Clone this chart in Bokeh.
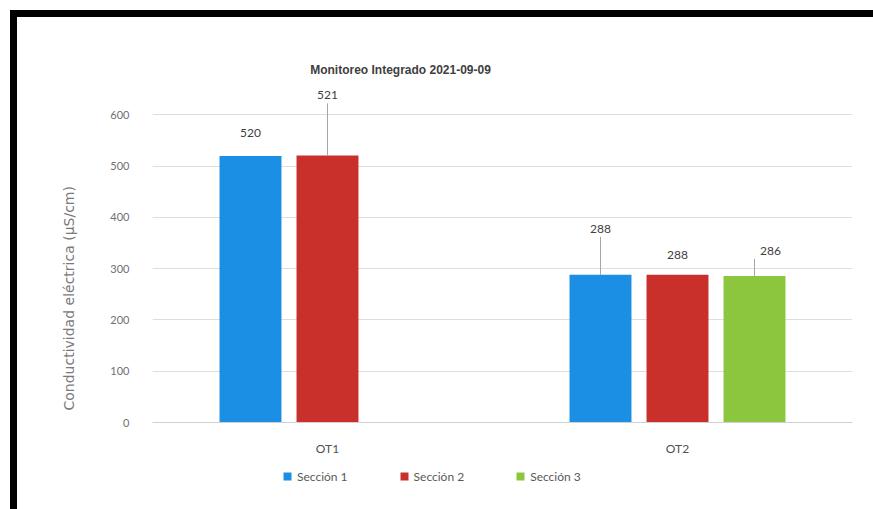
import math
from bokeh.plotting import figure
from bokeh.models import (FactorRange, Range1d, FixedTicker, Legend, LegendItem,
                          Label, Title, ColumnDataSource, Div, Spacer)
from bokeh.layouts import column, row
from bokeh.transform import dodge
from bokeh.core.properties import value
from bokeh.embed import file_html
from bokeh.resources import INLINE

# ---------------- data ----------------
categories = ["OT1", "OT2"]
series_names = ["Sección 1", "Sección 2", "Sección 3"]
seccion_1 = [520, 288]
seccion_2 = [521, 288]
seccion_3 = [None, 286]
y_ticks = [0, 100, 200, 300, 400, 500, 600]
title_text = "Monitoreo Integrado 2021-09-09"
y_label_text = "Conductividad eléctrica (µS/cm)"

# ---------------- styling ----------------
colors = ["#1A8FE3", "#C9302C", "#8CC63E"]
offsets = [-0.22, 0.0, 0.22]
bar_width = 0.177
# label lift above bar top (px) and horizontal shift (px), per series per category
label_lift = [[23, 46], [60, 20], [None, 25]]
label_shift = [[0, 0], [0, 0], [0, 16]]
leader = [[False, True], [True, False], [False, True]]

FONT = "Lato"
W = 856
H_MAIN, H_LEG = 445, 47
ML, MR, MT, MB = 135, 21, 0, 40
FRAME_H = H_MAIN - MT - MB
Y_END = 790
ppu = FRAME_H / Y_END

x_range = FactorRange(*categories, range_padding=0)
p = figure(width=W, height=H_MAIN, output_backend="svg", toolbar_location=None,
           x_range=x_range, y_range=Range1d(0, Y_END),
           min_border_left=ML, min_border_right=MR, min_border_top=MT,
           min_border_bottom=MB, margin=0)
p.outline_line_color = None
p.background_fill_color = "white"
p.border_fill_color = "white"

# legend strip below the chart (its markers lie outside its visible range)
pl = figure(width=W, height=H_LEG, output_backend="svg", toolbar_location=None,
            x_range=x_range, y_range=Range1d(-20, -10),
            min_border=0, margin=0, x_axis_type=None, y_axis_type=None)
pl.outline_line_color = None
pl.xgrid.grid_line_color = None
pl.ygrid.grid_line_color = None

series = [seccion_1, seccion_2, seccion_3]
items = []
for i, vals in enumerate(series):
    cats, tops, ly, txt, dx, lcats, lv = [], [], [], [], [], [], []
    for j, (c, v) in enumerate(zip(categories, vals)):
        if v is None:
            continue
        cats.append(c)
        tops.append(v)
        lift = label_lift[i][j]
        ly.append(v + lift / ppu)
        txt.append(str(v))
        dx.append(label_shift[i][j])
        if leader[i][j]:
            lcats.append(c)
            lv.append((v, v + (lift - 8) / ppu))
    src = ColumnDataSource(dict(cat=cats, top=tops, ly=ly, txt=txt, dx=dx))
    p.vbar(x=dodge("cat", offsets[i], range=x_range), top="top",
           width=bar_width, source=src, fill_color=colors[i], line_color=None)
    rl = pl.scatter(x=dodge("cat", offsets[i], range=x_range), y="top",
                    marker="square", size=8, source=src,
                    fill_color=colors[i], line_color=None)
    items.append(LegendItem(label=series_names[i], renderers=[rl]))
    if lcats:
        lsrc = ColumnDataSource(dict(cat=lcats, y0=[a for a, b in lv],
                                     y1=[b for a, b in lv]))
        p.segment(x0=dodge("cat", offsets[i], range=x_range), y0="y0",
                  x1=dodge("cat", offsets[i], range=x_range), y1="y1",
                  source=lsrc, line_color="#a6a6a6", line_width=1)
    p.text(x=dodge("cat", offsets[i], range=x_range), y="ly", text="txt",
           x_offset="dx", source=src, text_align="center",
           text_baseline="middle", text_font=value(FONT),
           text_font_size="12px", text_color="#404040")

# axes
p.yaxis.ticker = FixedTicker(ticks=y_ticks)
p.ygrid.ticker = FixedTicker(ticks=y_ticks)
p.ygrid.grid_line_color = "#dedede"
p.xgrid.grid_line_color = None
p.yaxis.axis_line_color = None
p.yaxis.major_tick_line_color = None
p.yaxis.minor_tick_line_color = None
p.yaxis.major_label_standoff = 17
p.yaxis.major_label_text_font = FONT
p.yaxis.major_label_text_font_size = "11px"
p.yaxis.major_label_text_color = "#707070"
p.xaxis.axis_line_color = "#d0d0d0"
p.xaxis.major_tick_line_color = None
p.xaxis.minor_tick_line_color = None
p.xaxis.major_label_standoff = 12
p.xaxis.major_label_text_font = FONT
p.xaxis.major_label_text_font_size = "12px"
p.xaxis.major_label_text_color = "#505050"

# chart title inside the plot area
p.add_layout(Label(x=248, y=688, x_units="screen", y_units="data",
                   text=title_text, text_align="center", text_baseline="middle",
                   text_font="Liberation Sans", text_font_style="bold",
                   text_font_size="12px", text_color="#404040"))
# y-axis title as a left-side title, starting near the bottom of the plot
p.add_layout(Title(text=y_label_text, align="left", offset=12, standoff=62,
                   text_font="DejaVu Sans", text_font_style="normal",
                   text_font_size="14px", text_color="#7a7a7a"), "left")

legend = Legend(items=items, orientation="horizontal", location=(125, 23),
                glyph_width=20, glyph_height=20, label_standoff=0, spacing=46,
                label_text_font=FONT, label_text_font_size="12px",
                label_text_color="#595959", border_line_color=None,
                background_fill_alpha=0, padding=0, margin=0, label_height=12)
pl.add_layout(legend)

top_bar = Div(width=863, height=7, margin=0, styles={"background-color": "#000"})
left_bar = Div(width=7, height=H_MAIN + H_LEG, margin=0,
               styles={"background-color": "#000"})
layout = column(Spacer(height=10, margin=0),
                row(Spacer(width=10, margin=0),
                    column(top_bar, row(left_bar, column(p, pl, spacing=0),
                                        spacing=0), spacing=0),
                    spacing=0),
                spacing=0)

open("out.html", "w").write(file_html(layout, INLINE))
